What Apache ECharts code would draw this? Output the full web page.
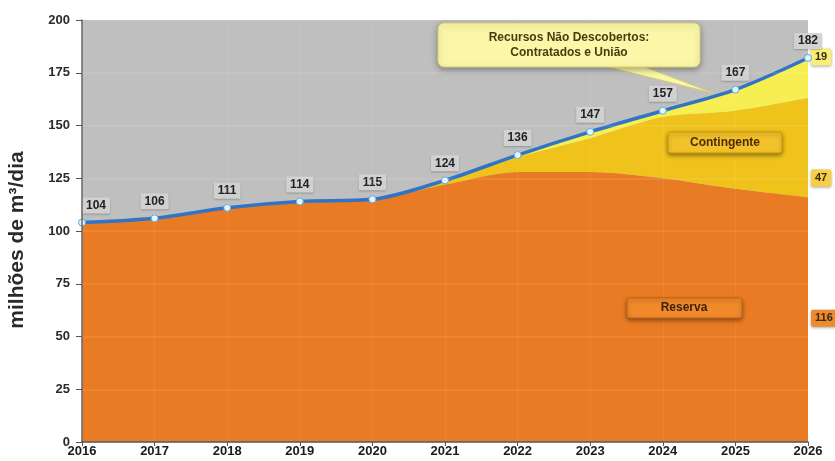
<!DOCTYPE html>
<html>
<head>
<meta charset="utf-8">
<script src="https://cdn.jsdelivr.net/npm/echarts@6/dist/echarts.min.js"></script>
<style>
  html, body { margin: 0; padding: 0; background: #ffffff; }
  #chart { width: 835px; height: 461px; }
</style>
</head>
<body>
<div id="chart"></div>
<script>
// Oferta de gás natural por categoria de recurso (milhões de m³/dia)
const years = ['2016', '2017', '2018', '2019', '2020', '2021', '2022', '2023', '2024', '2025', '2026'];
const reserva = [104, 106, 111, 114, 115, 122, 128, 128, 125, 120, 116];
const contingente = [0, 0, 0, 0, 0, 2, 7, 16, 29, 37, 47];
const naoDescobertos = [0, 0, 0, 0, 0, 0, 1, 3, 3, 10, 19];
const total = [104, 106, 111, 114, 115, 124, 136, 147, 157, 167, 182];
const yTicks = [0, 25, 50, 75, 100, 125, 150, 175, 200];

const FONT = '"Liberation Sans", Arial, sans-serif';
const last = years.length - 1;

const chart = echarts.init(document.getElementById('chart'), null, { renderer: 'canvas' });

// Box on the right edge showing the final value of a band
function endLabel(bg, offsetY) {
  return {
    show: true,
    position: 'right',
    distance: 3,
    offset: [0, offsetY],
    fontFamily: FONT,
    fontWeight: 'bold',
    fontSize: 11,
    color: '#3a2a10',
    backgroundColor: bg,
    padding: [3, 4],
    borderRadius: 2,
    shadowColor: 'rgba(0,0,0,0.35)',
    shadowBlur: 3,
    shadowOffsetY: 1
  };
}

function band(name, data, color, label) {
  return {
    name: name,
    type: 'line',
    stack: 'oferta',
    data: data.map((v, i) => (i === last ? { value: v, label: label } : v)),
    smooth: 0.3,
    symbol: 'circle',
    symbolSize: 0.01,
    showAllSymbol: true,
    itemStyle: { color: 'rgba(0,0,0,0)' },
    lineStyle: { width: 0 },
    areaStyle: { color: color, opacity: 1 },
    label: { show: false },
    z: 2
  };
}

const totalData = total.map((v, i) => (i === 0
  ? { value: v, label: { offset: [14, 0] } }
  : v));

chart.setOption({
  animation: false,
  backgroundColor: '#ffffff',
  grid: {
    left: 82, right: 27, top: 20, bottom: 19,
    show: true, backgroundColor: '#bfbfbf', borderWidth: 0
  },
  xAxis: {
    type: 'category',
    data: years,
    boundaryGap: false,
    axisLine: { show: true, lineStyle: { color: '#555', width: 1.5 } },
    axisTick: { show: true, alignWithLabel: true, length: 4, lineStyle: { color: '#555' } },
    axisLabel: {
      fontFamily: FONT, fontWeight: 'bold', fontSize: 13, color: '#1a1a1a',
      margin: 3, interval: 0
    },
    splitLine: { show: true, lineStyle: { color: 'rgba(255,255,255,0.07)', width: 1 } },
    z: 5
  },
  yAxis: {
    type: 'value',
    min: yTicks[0],
    max: yTicks[yTicks.length - 1],
    interval: 25,
    axisLine: { show: true, lineStyle: { color: '#666', width: 1.5 } },
    axisTick: { show: true, length: 6, lineStyle: { color: '#555' } },
    axisLabel: {
      fontFamily: FONT, fontWeight: 'bold', fontSize: 13, color: '#2a2a2a', margin: 12
    },
    splitLine: { show: true, lineStyle: { color: 'rgba(255,255,255,0.12)', width: 1.5 } },
    z: 5
  },
  series: [
    band('Reserva', reserva, '#e97b24', endLabel('#ee8a2e', 121)),
    band('Contingente', contingente, '#f0c21c', endLabel('#f6cf45', 80)),
    band('Recursos Não Descobertos', naoDescobertos, '#f7ef52', endLabel('#f8ef7a', -1)),
    {
      name: 'Total',
      type: 'line',
      data: totalData,
      smooth: 0.3,
      symbol: 'circle',
      symbolSize: 7,
      itemStyle: { color: '#e4f6fb', borderColor: '#5aa9e0', borderWidth: 1 },
      lineStyle: { color: '#2f74c6', width: 3.5 },
      label: {
        show: true,
        position: 'top',
        distance: 5,
        fontFamily: FONT,
        fontWeight: 'bold',
        fontSize: 12,
        color: '#222',
        backgroundColor: 'rgba(212,212,212,0.95)',
        padding: [2, 4],
        borderRadius: 1,
        shadowColor: 'rgba(0,0,0,0.25)',
        shadowBlur: 2,
        shadowOffsetY: 1
      },
      z: 4
    }
  ],
  graphic: [
    // Y axis title
    {
      type: 'text',
      x: 17, y: 240,
      rotation: Math.PI / 2,
      style: {
        text: 'milhões de m³/dia',
        fontFamily: FONT, fontWeight: 'bold', fontSize: 21,
        fill: '#2a2a2a', align: 'center', verticalAlign: 'middle'
      }
    },
    // Callout for the undiscovered resources band
    {
      type: 'polygon',
      shape: { points: [[588, 62], [632, 62], [713, 93]] },
      style: { fill: '#fbf7a8', stroke: '#d8d070', lineWidth: 1 },
      z: 20
    },
    {
      type: 'rect',
      shape: { x: 438, y: 23, width: 262, height: 44, r: 6 },
      style: {
        fill: '#fbf7a8', stroke: '#d8d070', lineWidth: 1,
        shadowColor: 'rgba(0,0,0,0.35)', shadowBlur: 6, shadowOffsetY: 2
      },
      z: 21
    },
    {
      type: 'text',
      x: 569, y: 45,
      style: {
        text: 'Recursos Não Descobertos:\nContratados e União',
        fontFamily: FONT, fontWeight: 'bold', fontSize: 12, lineHeight: 15,
        fill: '#4a3a10', align: 'center', verticalAlign: 'middle'
      },
      z: 22
    },
    // Band tags
    {
      type: 'rect',
      shape: { x: 668, y: 132, width: 114, height: 21, r: 3 },
      style: {
        fill: '#f3c22a', stroke: '#c99a10', lineWidth: 1,
        shadowColor: 'rgba(0,0,0,0.4)', shadowBlur: 4, shadowOffsetY: 2
      },
      z: 21
    },
    {
      type: 'text',
      x: 725, y: 142.5,
      style: {
        text: 'Contingente', fontFamily: FONT, fontWeight: 'bold', fontSize: 12,
        fill: '#4a2a0a', align: 'center', verticalAlign: 'middle'
      },
      z: 22
    },
    {
      type: 'rect',
      shape: { x: 627, y: 298, width: 115, height: 20, r: 3 },
      style: {
        fill: '#f08a2a', stroke: '#c4651a', lineWidth: 1,
        shadowColor: 'rgba(0,0,0,0.4)', shadowBlur: 4, shadowOffsetY: 2
      },
      z: 21
    },
    {
      type: 'text',
      x: 684, y: 308,
      style: {
        text: 'Reserva', fontFamily: FONT, fontWeight: 'bold', fontSize: 12,
        fill: '#3a1e10', align: 'center', verticalAlign: 'middle'
      },
      z: 22
    }
  ]
});
</script>
</body>
</html>
